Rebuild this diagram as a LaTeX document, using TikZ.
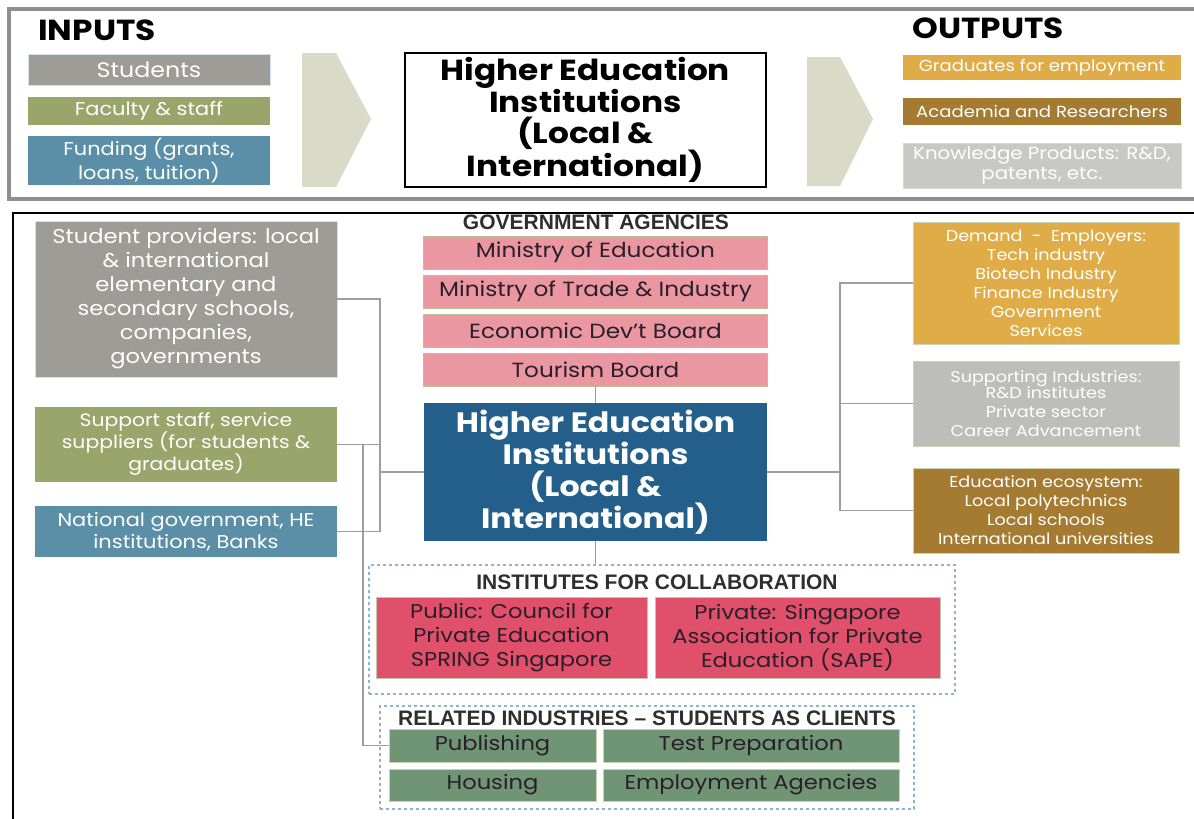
\documentclass[tikz,border=0pt]{standalone}
\usepackage{fontspec}
\setmainfont{Poppins}[FakeStretch=1.13]
\newfontfamily\headfont{Liberation Sans}
\usetikzlibrary{positioning}

\definecolor{studgray}{HTML}{9D9C97}
\definecolor{olive}{HTML}{9AA56B}
\definecolor{steel}{HTML}{5B8FA8}
\definecolor{chevron}{HTML}{D9DBC8}
\definecolor{gold}{HTML}{E0AC47}
\definecolor{bronze}{HTML}{A57B31}
\definecolor{knowgray}{HTML}{C8C8C4}
\definecolor{supgray}{HTML}{BDBDBA}
\definecolor{pinkbox}{HTML}{EB97A1}
\definecolor{crimson}{HTML}{E0506A}
\definecolor{sage}{HTML}{6F9575}
\definecolor{navy}{HTML}{245F8C}
\definecolor{framegray}{HTML}{8F8F8F}
\definecolor{dashblue}{HTML}{8DB3DD}
\definecolor{linkgray}{HTML}{9E9E9E}
\definecolor{darktext}{HTML}{2A1E2C}

\newcommand\setfs[2]{\fontsize{#1}{#2}\selectfont}

\tikzset{
  box/.style={inner sep=0pt, align=center, text=white},
  pinkrow/.style={box, fill=pinkbox, draw=olive!70, line width=0.8,
    text=darktext, minimum width=344, minimum height=33,
    font=\setfs{20.5}{22}},
  greenrow/.style={box, fill=sage, draw=olive!50, line width=0.8,
    text=darktext, minimum height=33, font=\setfs{20}{22}},
  collab/.style={box, fill=crimson, draw=olive!60, line width=0.8,
    text=darktext, minimum height=81, font=\setfs{20}{24}},
  group/.style={draw=dashblue, dashed, line width=1.2, inner sep=0pt},
  heading/.style={inner sep=0pt, text=black!82, font=\headfont\bfseries\setfs{21}{22}},
  link/.style={draw=linkgray, line width=1.5},
  arrowband/.style={fill=chevron}
}

\begin{document}
\begin{tikzpicture}[x=1pt,y=-1pt]
  \useasboundingbox (0,0) rectangle (1194,819);
  \clip (0,0) rectangle (1194,819);

  % Inputs / outputs panel
  \draw[framegray, line width=3.5] (9,9) rectangle (1210,199);
  \node[inner sep=0pt, font=\bfseries\setfs{29}{30}] (inputs) at (97,30) {INPUTS};
  \node[inner sep=0pt, font=\bfseries\setfs{29}{30}] (outputs) at (988,28) {OUTPUTS};

  \node[box, fill=studgray, draw=dashblue!40, minimum width=242, minimum height=31,
    font=\setfs{21}{22}] (students) at (149,69.5) {Students};
  \node[box, fill=olive, minimum width=242, minimum height=28,
    font=\setfs{18.5}{22}] (faculty) at (149,111) {Faculty \& staff};
  \node[box, fill=steel, minimum width=242, minimum height=49,
    font=\setfs{18.5}{22}] (funding) at (149,160.5) {Funding (grants,\\loans, tuition)};

  \fill[arrowband] (302,53) -- (336,53) -- (371,119) -- (336,187) -- (302,187) -- cycle;
  \fill[arrowband] (807,57) -- (840,57) -- (873,119) -- (840,186) -- (807,186) -- cycle;

  \node[box, draw=black, line width=1.2, text=black, minimum width=361, minimum height=134,
    font=\bfseries\setfs{29}{31}] (hetop) at (585.5,120)
    {Higher Education\\Institutions\\(Local \&\\International)};

  \node[box, fill=gold, minimum width=278, minimum height=25,
    font=\setfs{16}{19}] (grads) at (1042,67.5) {Graduates for employment};
  \node[box, fill=bronze, minimum width=278, minimum height=27,
    font=\setfs{16}{19}] (academia) at (1042,111.5) {Academia and Researchers};
  \node[box, fill=knowgray, draw=olive!40, minimum width=278, minimum height=45,
    font=\setfs{17.5}{20}] (knowledge) at (1042,165.5) {Knowledge Products: R\&D,\\patents, etc.};

  % Ecosystem panel
  \draw[black, line width=2] (13,830) -- (13,213) -- (1210,213);

  \node[heading] (govhead) at (596,222) {GOVERNMENT AGENCIES};
  \node[pinkrow] (moe) at (595.5,252.5) {Ministry of Education};
  \node[pinkrow] (mti) at (595.5,291.5) {Ministry of Trade \& Industry};
  \node[pinkrow] (edb) at (595.5,330.5) {Economic Dev’t Board};
  \node[pinkrow] (stb) at (595.5,369.5) {Tourism Board};

  \node[box, fill=navy, minimum width=343, minimum height=138,
    font=\bfseries\setfs{28}{32}] (hei) at (595.5,472)
    {Higher Education\\Institutions\\(Local \&\\International)};

  \node[box, fill=studgray, draw=dashblue!40, minimum width=302, minimum height=156,
    font=\setfs{20}{24}] (providers) at (186,299)
    {Student providers: local\\\& international\\elementary and\\secondary schools,\\companies,\\governments};
  \node[box, fill=olive, minimum width=302, minimum height=75,
    font=\setfs{18}{22}] (support) at (186,444.5)
    {Support staff, service\\suppliers (for students \&\\graduates)};
  \node[box, fill=steel, minimum width=302, minimum height=51,
    font=\setfs{18.5}{22}] (natgov) at (186,531.5)
    {National government, HE\\institutions, Banks};

  \node[box, fill=gold, draw=olive!50, minimum width=266, minimum height=122,
    font=\setfs{15.6}{19}] (demand) at (1046,283)
    {Demand~~-~~Employers:\\Tech industry\\Biotech Industry\\Finance Industry\\Government\\Services};
  \node[box, fill=supgray, draw=olive!50, minimum width=266, minimum height=85,
    font=\setfs{15.6}{19}] (supind) at (1046,403.5)
    {Supporting Industries:\\[-3pt]R\&D institutes\\Private sector\\Career Advancement};
  \node[box, fill=bronze, draw=olive!50, minimum width=266, minimum height=85,
    font=\setfs{15.6}{19}] (ecosys) at (1046,510.5)
    {Education ecosystem:\\Local polytechnics\\Local schools\\International universities};

  \node[group, minimum width=586, minimum height=129] (collabgrp) at (662,629.5) {};
  \node[heading] (collabhead) at (657,582) {INSTITUTES FOR COLLABORATION};
  \node[collab, minimum width=271] (public) at (511.5,637.5)
    {Public: Council for\\Private Education\\SPRING Singapore};
  \node[collab, minimum width=285] (private) at (797.5,637.5)
    {Private: Singapore\\Association for Private\\Education (SAPE)};

  \node[group, minimum width=534, minimum height=103] (relgrp) at (647,757.5) {};
  \node[heading] (relhead) at (647,718) {RELATED INDUSTRIES – STUDENTS AS CLIENTS};
  \node[greenrow, minimum width=207] (publishing) at (492.5,745.5) {Publishing};
  \node[greenrow, minimum width=296] (testprep) at (751,745.5) {Test Preparation};
  \node[greenrow, minimum width=207, minimum height=32] (housing) at (492.5,785) {Housing};
  \node[greenrow, minimum width=296, minimum height=32] (agencies) at (751,785) {Employment Agencies};

  % Connectors
  \coordinate (leftbus) at (380,472);
  \coordinate (relbus) at (363,444.5);
  \coordinate (rightbus) at (840,472);
  \draw[link] (stb.south) -- (hei.north);
  \draw[link] (hei.south) -- (collabgrp.north -| hei.south);
  \draw[link] (providers.east) -| (leftbus);
  \draw[link] (natgov.east) -| (leftbus);
  \draw[link] (support.east) -- (support.east -| leftbus);
  \draw[link] (leftbus) -- (hei.west);
  \draw[link] (relbus) |- (publishing.west);
  \draw[link] (hei.east) -- (rightbus);
  \draw[link] (demand.west) -| (rightbus);
  \draw[link] (ecosys.west) -| (rightbus);
  \draw[link] (supind.west) -- (supind.west -| rightbus);
\end{tikzpicture}
\end{document}
